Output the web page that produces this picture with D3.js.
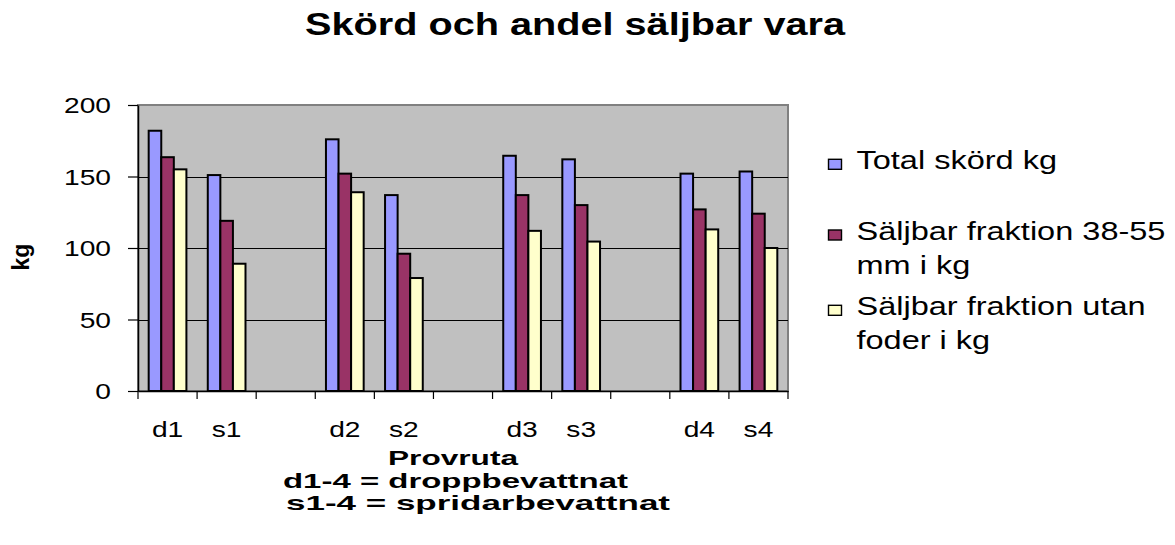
<!DOCTYPE html>
<html>
<head>
<meta charset="utf-8">
<script src="https://cdn.jsdelivr.net/npm/d3@7"></script>
<style>
  body { margin: 0; background: #fff; }
  text { font-family: "Liberation Sans", Arial, sans-serif; fill: #000; }
</style>
</head>
<body>
<svg id="chart" width="1175" height="545"></svg>
<script>
// data
var categories = ["d1", "s1", "", "d2", "s2", "", "d3", "s3", "", "d4", "s4"];
var totalSkord = [182, 151, null, 176, 137, null, 164.5, 162, null, 152, 153.5];
var saljbar3855 = [163.5, 119, null, 152, 96, null, 137, 130, null, 127, 124];
var saljbarUtanFoder = [155, 89, null, 139, 79, null, 112, 104.5, null, 113, 100];
var seriesNames = [["Total skörd kg"], ["Säljbar fraktion 38-55", "mm i kg"], ["Säljbar fraktion utan", "foder i kg"]];
var yTicks = [0, 50, 100, 150, 200];

var colors = ["#9999FF", "#993366", "#FFFFCC"];
var series = [totalSkord, saljbar3855, saljbarUtanFoder];

// the picture is stretched sideways, so stretch text the same way
var SX = 1.28;
function stretch(sel, k) {
  sel.each(function() {
    var w = this.getComputedTextLength();
    if (w > 0) d3.select(this).attr("textLength", w * k).attr("lengthAdjust", "spacingAndGlyphs");
  });
}
function fitWidth(sel, w) {
  sel.attr("textLength", w).attr("lengthAdjust", "spacingAndGlyphs");
}

var svg = d3.select("#chart");
var plotLeft = 138, plotRight = 788, plotTop = 105, plotBottom = 391;

var x0 = d3.scaleBand()
  .domain(d3.range(categories.length))
  .range([plotLeft, plotRight])
  .padding(0);

var x1 = d3.scaleBand()
  .domain([0, 1, 2])
  .range([0, x0.bandwidth()])
  .paddingInner(0)
  .paddingOuter(0.85);

var y = d3.scaleLinear().domain([0, 200]).range([plotBottom, plotTop]);

// plot area
svg.append("rect")
  .attr("x", plotLeft).attr("y", plotTop)
  .attr("width", plotRight - plotLeft).attr("height", plotBottom - plotTop)
  .attr("fill", "#C0C0C0")
  .attr("stroke", "#808080")
  .attr("stroke-width", 2);

// gridlines
svg.append("g")
  .selectAll("line")
  .data(yTicks.filter(function(d) { return d > 0 && d < 200; }))
  .enter().append("line")
    .attr("x1", plotLeft).attr("x2", plotRight)
    .attr("y1", function(d) { return Math.round(y(d)) + 0.5; })
    .attr("y2", function(d) { return Math.round(y(d)) + 0.5; })
    .attr("stroke", "#000")
    .attr("stroke-width", 1);

// bars
var rows = [];
categories.forEach(function(c, i) {
  series.forEach(function(s, j) {
    if (s[i] != null) rows.push({ cat: i, ser: j, value: s[i] });
  });
});

svg.append("g")
  .selectAll("rect")
  .data(rows)
  .enter().append("rect")
    .attr("x", function(d) { return x0(d.cat) + x1(d.ser); })
    .attr("y", function(d) { return y(d.value); })
    .attr("width", x1.bandwidth())
    .attr("height", function(d) { return y(0) - y(d.value); })
    .attr("fill", function(d) { return colors[d.ser]; })
    .attr("stroke", "#000")
    .attr("stroke-width", 2);

// y axis
var yAxis = svg.append("g")
  .attr("transform", "translate(" + plotLeft + ",0)")
  .call(d3.axisLeft(y).tickValues(yTicks).tickSize(10).tickSizeOuter(0).tickPadding(17));
yAxis.select(".domain").attr("stroke", "#000").attr("stroke-width", 1.5);
yAxis.selectAll(".tick line").attr("stroke", "#000").attr("stroke-width", 1.2);
yAxis.selectAll(".tick text")
  .attr("font-size", 22)
  .attr("font-family", "Liberation Sans, Arial, sans-serif")
  .attr("dy", "0.36em");
stretch(yAxis.selectAll(".tick text"), SX);

// x axis: labels centred on categories
var xAxis = svg.append("g")
  .attr("transform", "translate(0," + plotBottom + ")")
  .call(d3.axisBottom(x0).tickSize(0).tickSizeOuter(0).tickFormat(function(i) { return categories[i]; }));
xAxis.select(".domain").attr("stroke", "#000").attr("stroke-width", 1.5);
xAxis.selectAll(".tick text")
  .attr("font-size", 22)
  .attr("font-family", "Liberation Sans, Arial, sans-serif")
  .attr("y", 45.7)
  .attr("dy", 0);
stretch(xAxis.selectAll(".tick text"), SX);

// tick marks between categories
svg.append("g")
  .selectAll("line")
  .data(d3.range(categories.length + 1))
  .enter().append("line")
    .attr("x1", function(i) { return i < categories.length ? x0(i) : plotRight; })
    .attr("x2", function(i) { return i < categories.length ? x0(i) : plotRight; })
    .attr("y1", plotBottom).attr("y2", plotBottom + 8)
    .attr("stroke", "#000")
    .attr("stroke-width", 1.2);

// title
svg.append("text")
  .attr("x", 575).attr("y", 35)
  .attr("text-anchor", "middle")
  .attr("font-size", 31)
  .attr("font-weight", "bold")
  .text("Skörd och andel säljbar vara")
  .call(fitWidth, 540);

// axis titles
svg.append("text")
  .attr("x", 453).attr("y", 465)
  .attr("text-anchor", "middle")
  .attr("font-size", 21)
  .attr("font-weight", "bold")
  .text("Provruta")
  .call(fitWidth, 130);

svg.append("text")
  .attr("x", 455.5).attr("y", 487.5)
  .attr("text-anchor", "middle")
  .attr("font-size", 21)
  .attr("font-weight", "bold")
  .text("d1-4 = droppbevattnat")
  .call(fitWidth, 345);

svg.append("text")
  .attr("x", 478).attr("y", 510)
  .attr("text-anchor", "middle")
  .attr("font-size", 21)
  .attr("font-weight", "bold")
  .text("s1-4 = spridarbevattnat")
  .call(fitWidth, 384);

svg.append("text")
  .attr("transform", "translate(29,257) rotate(-90)")
  .attr("text-anchor", "middle")
  .attr("font-size", 23)
  .attr("font-weight", "bold")
  .text("kg");

// legend
var legendY = [169.3, 240, 315.3];
var legend = svg.append("g");
seriesNames.forEach(function(lines, j) {
  legend.append("rect")
    .attr("x", 828.5).attr("y", legendY[j] - 10)
    .attr("width", 13).attr("height", 10)
    .attr("fill", colors[j])
    .attr("stroke", "#000")
    .attr("stroke-width", 1.4);
  lines.forEach(function(t, k) {
    legend.append("text")
      .attr("x", 856.5)
      .attr("y", legendY[j] + k * 34)
      .attr("font-size", 26)
      .text(t);
  });
});
stretch(legend.selectAll("text"), 1.25);
</script>
</body>
</html>
